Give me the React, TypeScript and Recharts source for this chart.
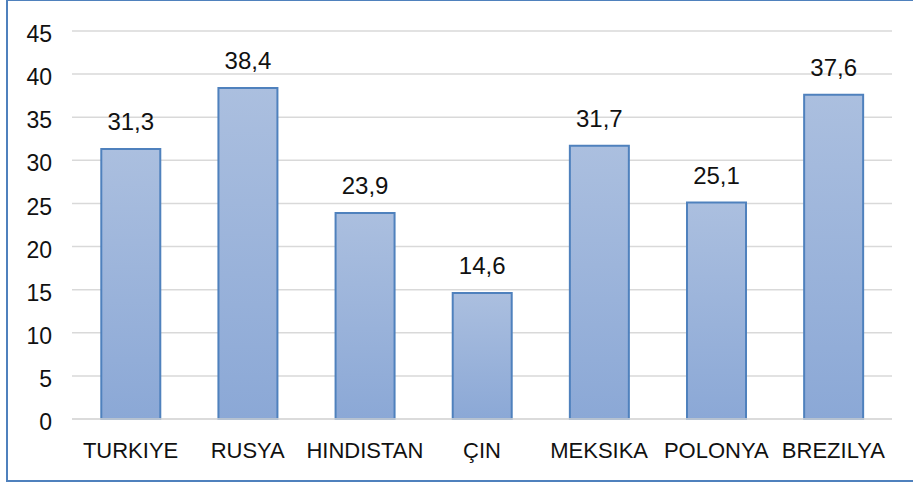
import React from "react";
import { BarChart, Bar, XAxis, YAxis, CartesianGrid, LabelList } from "recharts";

const categories = ["TURKIYE", "RUSYA", "HINDISTAN", "ÇIN", "MEKSIKA", "POLONYA", "BREZILYA"];
const values = [31.3, 38.4, 23.9, 14.6, 31.7, 25.1, 37.6];
const yTicks = [0, 5, 10, 15, 20, 25, 30, 35, 40, 45];

const data = categories.map((name, i) => ({ name, value: values[i] }));

const FONT = "'Liberation Sans', Arial, sans-serif";

export default function App() {
  return (
    <div style={{ position: "absolute", left: 0, top: 0, width: 913, height: 484, overflow: "hidden", background: "#fff" }}>
      <div
        style={{
          position: "absolute",
          left: 6,
          top: -1,
          width: 912,
          height: 483,
          boxSizing: "border-box",
          border: "2px solid #4f81bd",
        }}
      />
      <div style={{ position: "absolute", left: 0, top: 0 }}>
        <BarChart
          width={913}
          height={484}
          data={data}
          margin={{ top: 31, right: 21, bottom: 35, left: 0 }}
          barCategoryGap="25%"
        >
          <defs>
            <linearGradient id="barGrad" x1="0" y1="0" x2="0" y2="1">
              <stop offset="0%" stopColor="#abbfdf" />
              <stop offset="100%" stopColor="#8ba8d6" />
            </linearGradient>
          </defs>
          <CartesianGrid vertical={false} stroke="#d9d9d9" strokeWidth={1.5} />
          <XAxis
            dataKey="name"
            axisLine={{ stroke: "#d9d9d9", strokeWidth: 1.5 }}
            tickLine={false}
            tickMargin={17}
            height={30}
            interval={0}
            tick={{ fill: "#111", fontSize: 22, fontFamily: FONT }}
          />
          <YAxis
            width={72}
            domain={[0, 45]}
            ticks={yTicks}
            axisLine={false}
            tickLine={false}
            tickMargin={14}
            tick={{ fill: "#111", fontSize: 23, fontFamily: FONT, dy: 3 }}
          />
          <Bar dataKey="value" fill="url(#barGrad)" stroke="#4f81bd" strokeWidth={2} isAnimationActive={false}>
            <LabelList
              dataKey="value"
              position="top"
              offset={19}
              formatter={(v: number) => String(v).replace(".", ",")}
              style={{ fill: "#111", fontSize: 24, fontFamily: FONT }}
            />
          </Bar>
        </BarChart>
      </div>
    </div>
  );
}
